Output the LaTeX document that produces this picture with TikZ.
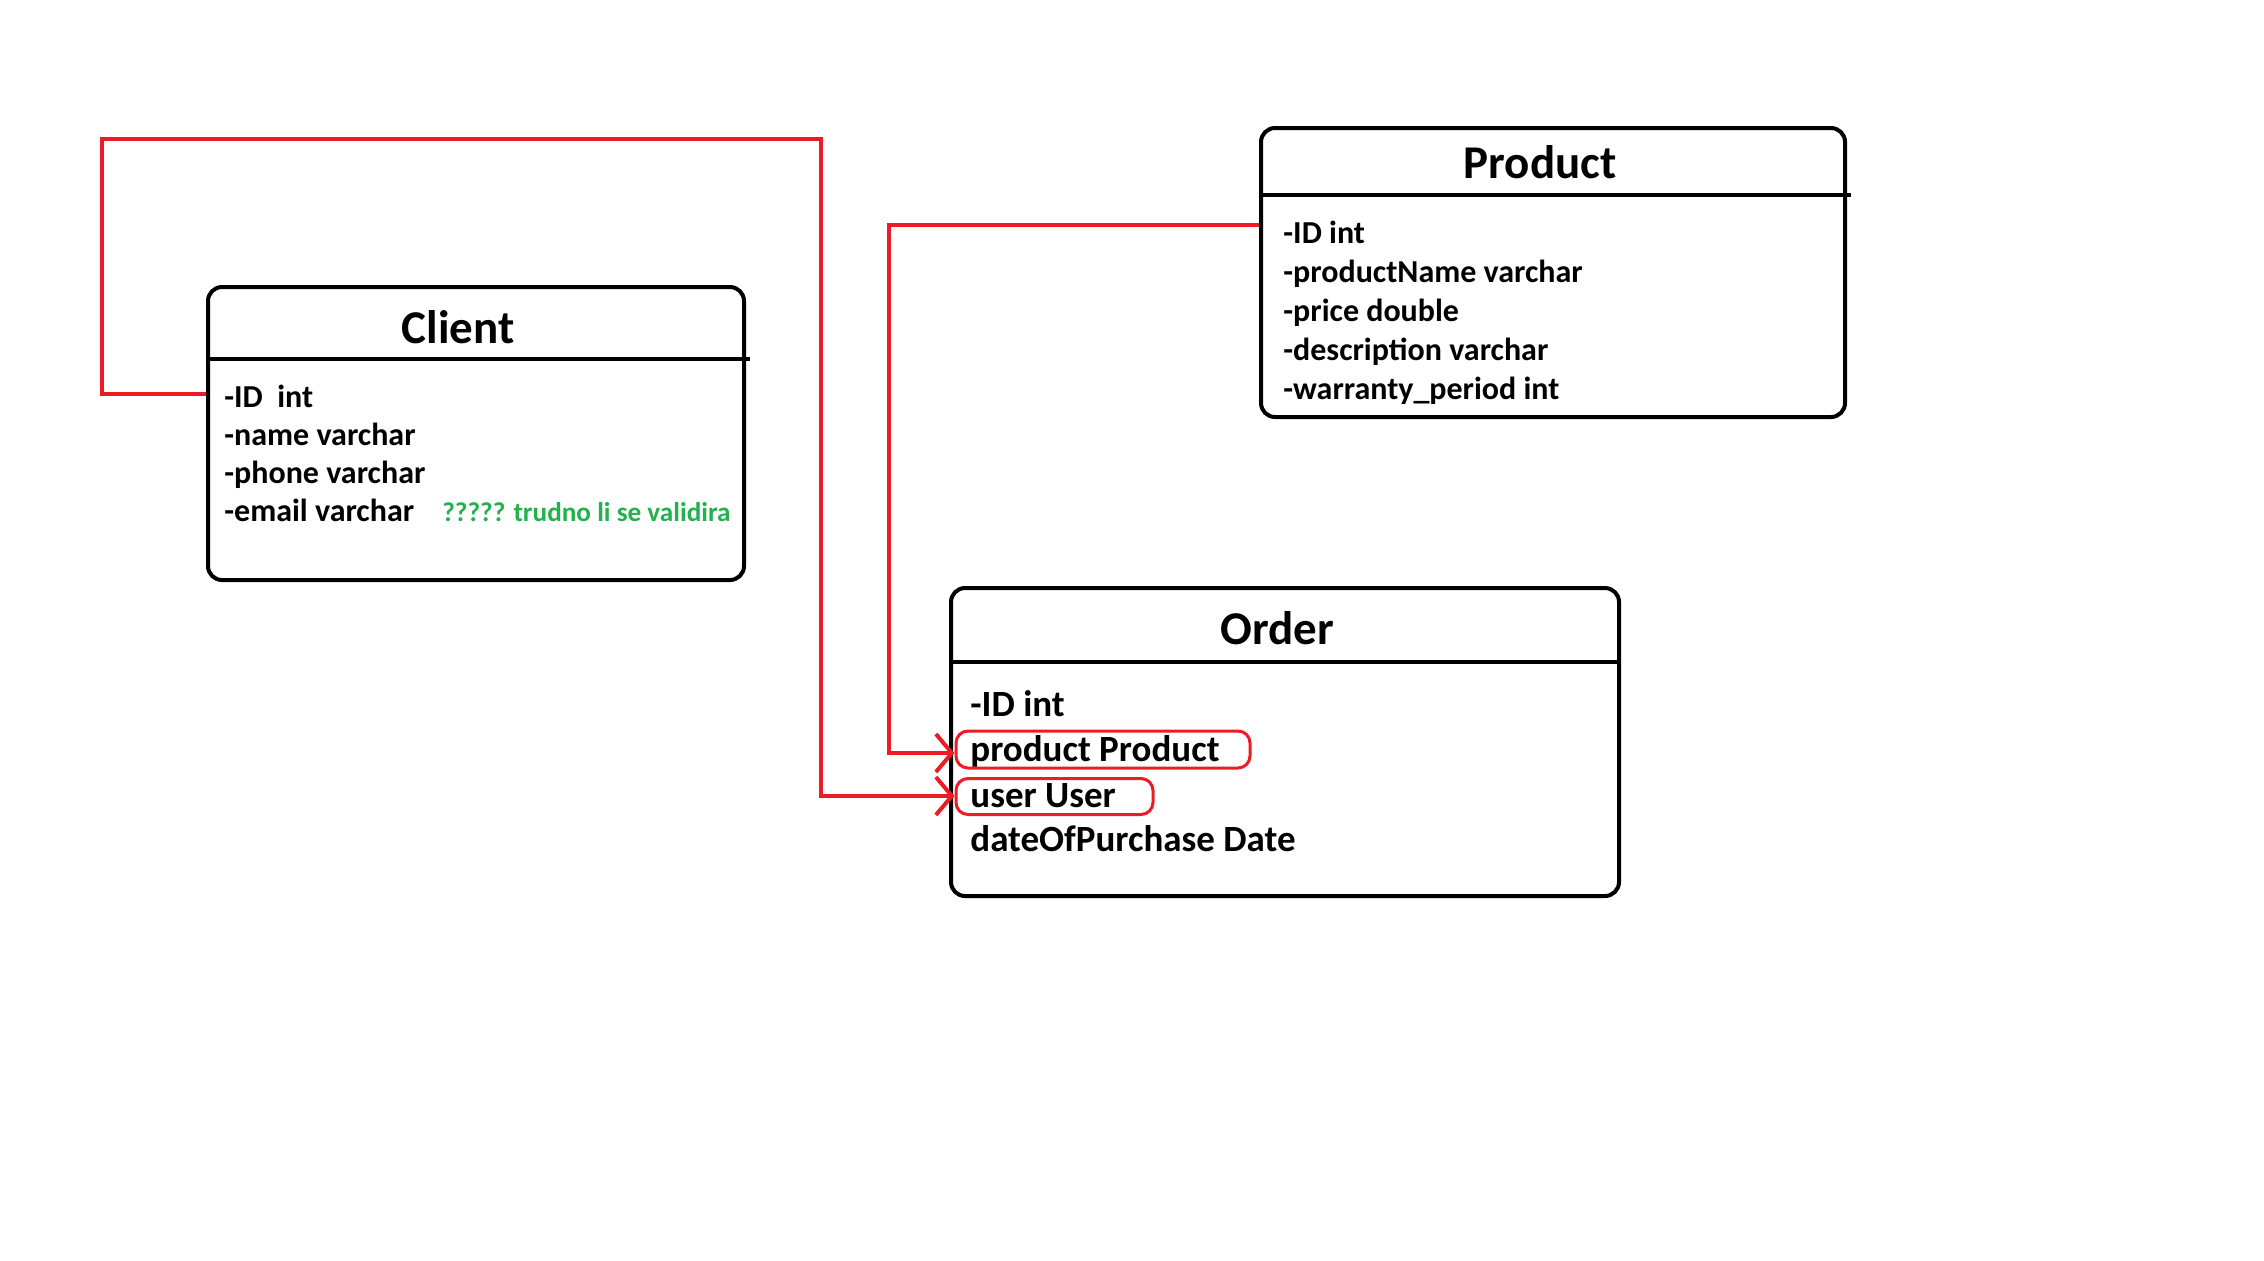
\documentclass[tikz,border=0pt]{standalone}
\usepackage{fontspec}
\setmainfont{Carlito}
\usetikzlibrary{arrows.meta,calc}
\definecolor{pred}{RGB}{237,28,36}
\definecolor{pgreen}{RGB}{34,177,76}
\begin{document}
\begin{tikzpicture}[x=0.5pt,y=-0.5pt,
  umlbox/.style={draw=black,line width=2pt,rounded corners=7pt,rectangle,inner sep=0pt},
  sepline/.style={draw=black,line width=2.2pt},
  title/.style={anchor=base,inner sep=0pt,font=\fontsize{23.5}{28}\selectfont\bfseries},
  attr/.style={anchor=base west,inner sep=0pt,font=\fontsize{16}{19}\selectfont\bfseries},
  oattr/.style={anchor=base west,inner sep=0pt,font=\fontsize{18.5}{22}\selectfont\bfseries},
  note/.style={anchor=base west,inner sep=0pt,text=pgreen,font=\fontsize{13.6}{16}\selectfont\bfseries},
  hilite/.style={draw=pred,line width=1.5pt,rounded corners=6pt,rectangle,inner sep=0pt},
  redline/.style={draw=pred,line width=2pt},
  tip/.style={-{Straight Barb[length=8pt,width=19pt]}},
]
\useasboundingbox (0,0) rectangle (2264,1260);

% boxes
\node[umlbox,minimum width=268pt,minimum height=146.5pt] (client) at (476,433.5) {};
\node[umlbox,minimum width=292pt,minimum height=144.5pt] (product) at (1553,272.5) {};
\node[umlbox,minimum width=334pt,minimum height=154pt] (order) at (1285,742) {};

% header separators
\draw[sepline] ($(client.north west)+(0,74)$) -- ($(client.north east)+(4,74)$);
\draw[sepline] ($(product.north west)+(0,69)$) -- ($(product.north east)+(4,69)$);
\draw[sepline] ($(order.north west)+(0,76)$) -- ($(order.north east)+(0,76)$);

% titles
\node[title] (clientT) at (458,343) {Client};
\node[title] (productT) at (1540,178) {Product};
\node[title] (orderT) at (1277,644) {Order};

% client attributes
\node[attr] (cid) at (224,407) {-ID\ \ int};
\node[attr] (cname) at (224,445) {-name varchar};
\node[attr] (cphone) at (224,483) {-phone varchar};
\node[attr] (cemail) at (224,521) {-email varchar};
\node[note] (cnote) at (442,521) {????? trudno li se validira};

% product attributes
\node[attr] (pid) at (1283,243) {-ID int};
\node[attr] (pname) at (1283,282) {-productName varchar};
\node[attr] (pprice) at (1283,321) {-price double};
\node[attr] (pdesc) at (1283,360) {-description varchar};
\node[attr] (pwarr) at (1283,399) {-warranty\_period int};

% order attributes
\node[oattr] (oid) at (970,716) {-ID int};
\node[oattr] (oprod) at (970,761) {product Product};
\node[oattr] (ouser) at (970,807) {user User};
\node[oattr] (odate) at (970,851) {dateOfPurchase Date};

% highlights
\node[hilite,minimum width=147pt,minimum height=18.5pt] (oprodbox) at (1103,749.5) {};
\node[hilite,minimum width=98.5pt,minimum height=18pt] (ouserbox) at (1054.5,796.5) {};

% connectors
\coordinate (cj) at (821,796);
\coordinate (pj) at (889,753);
\draw[redline,tip] ($(client.north west)+(0,109)$) -| (102,139) -| (cj) -- (cj -| ouserbox.west);
\draw[redline,tip] ($(product.north west)+(0,99)$) -| (pj) -- (pj -| oprodbox.west);
\end{tikzpicture}
\end{document}
